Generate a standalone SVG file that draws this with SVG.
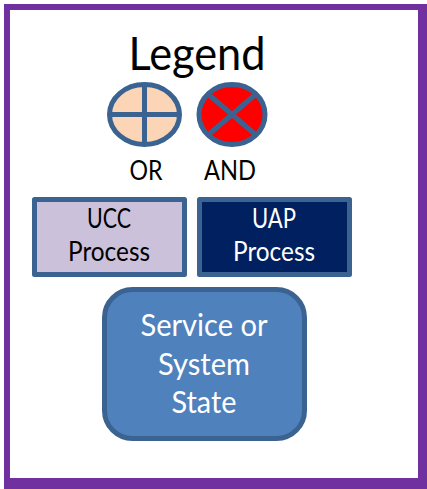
<svg xmlns="http://www.w3.org/2000/svg" width="427" height="489" viewBox="0 0 427 489">
<style>
text{font-family:"Lato","Liberation Sans",sans-serif;text-anchor:middle;font-weight:400}
.k{fill:#000}.w{fill:#fff}
.g{stroke:#3b6391;stroke-width:5;stroke-linejoin:round}
</style>
<rect width="427" height="489" fill="#fff"/>
<path d="M4 4H427V489H4Z M10 10V478H418V10Z" fill="#7030a0" fill-rule="evenodd"/>
<text class="k" x="197" y="70" font-size="46" textLength="137" lengthAdjust="spacingAndGlyphs">Legend</text>
<g id="or"><ellipse class="g" cx="144.500" cy="114.500" rx="35" ry="30" fill="#fbd5b5"/><path class="g" fill="none" d="M110 114.500H179M144.500 85V144"/></g>
<g id="and"><ellipse class="g" cx="232" cy="114.500" rx="33" ry="30" fill="#f00"/><path class="g" fill="none" d="M208 94L256 135M256 94L208 135"/></g>
<text class="k" x="146" y="180" font-size="26" textLength="33" lengthAdjust="spacingAndGlyphs">OR</text>
<text class="k" x="230" y="180" font-size="26" textLength="52" lengthAdjust="spacingAndGlyphs">AND</text>
<g id="ucc"><rect class="g" x="34.500" y="199.500" width="150" height="75" fill="#ccc1da"/><text class="k" x="109" y="228" font-size="26" textLength="44" lengthAdjust="spacingAndGlyphs">UCC</text><text class="k" x="109" y="261" font-size="26" textLength="82" lengthAdjust="spacingAndGlyphs">Process</text></g>
<g id="uap"><rect class="g" x="199.500" y="199.500" width="150" height="75" fill="#002060"/><text class="w" x="274" y="228" font-size="26" textLength="44" lengthAdjust="spacingAndGlyphs">UAP</text><text class="w" x="274" y="261" font-size="26" textLength="82" lengthAdjust="spacingAndGlyphs">Process</text></g>
<g id="state"><rect class="g" x="104.500" y="289.500" width="200" height="149" rx="28" fill="#4f81bd"/><text class="w" x="204" y="336" font-size="30" textLength="127" lengthAdjust="spacingAndGlyphs">Service or</text><text class="w" x="204" y="375" font-size="30" textLength="92" lengthAdjust="spacingAndGlyphs">System</text><text class="w" x="204" y="413" font-size="30" textLength="65" lengthAdjust="spacingAndGlyphs">State</text></g>
<g id="connectors"/>
</svg>
